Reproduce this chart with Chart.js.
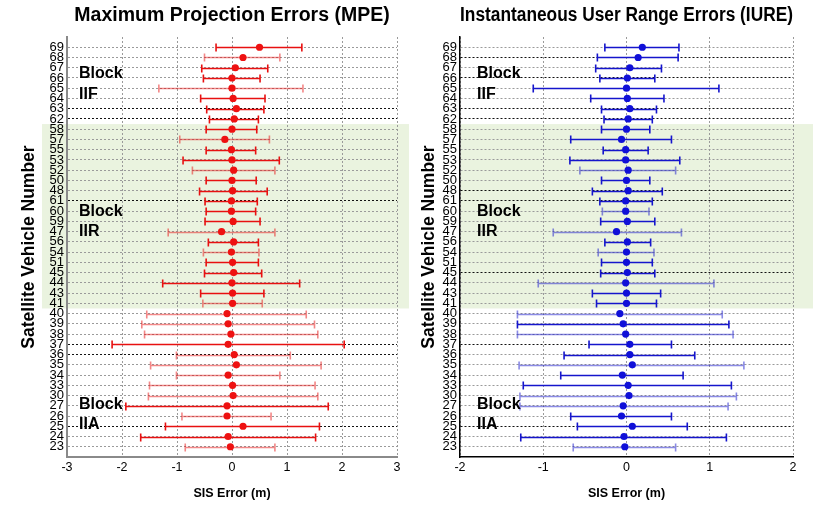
<!DOCTYPE html>
<html><head><meta charset="utf-8">
<script src="https://cdn.jsdelivr.net/npm/chart.js@4.4.1/dist/chart.umd.min.js"></script>
<style>
html,body{margin:0;padding:0;background:#fff;}
#wrap{position:relative;width:813px;height:515px;overflow:hidden;}
#c1{position:absolute;left:0;top:0;}
#c2{position:absolute;left:400px;top:0;}
</style></head><body>
<div id="wrap"><canvas id="c1" width="410" height="515"></canvas><canvas id="c2" width="413" height="515"></canvas></div>
<script>
// ---- data ----
const svn = [69,68,67,66,65,64,63,62,58,57,55,53,52,50,48,61,60,59,47,56,54,51,45,44,43,41,40,39,38,37,36,35,34,33,30,27,26,25,24,23];

const mpeMean = [0.50,0.20,0.06,0.00,0.00,0.02,0.08,0.04,0.00,-0.13,-0.01,0.00,0.03,0.00,0.01,-0.01,-0.01,0.02,-0.19,0.03,-0.01,0.01,0.03,0.00,0.01,0.01,-0.09,-0.07,-0.02,-0.07,0.04,0.08,-0.07,0.01,0.02,-0.09,-0.09,0.20,-0.07,-0.03];
const mpeLow  = [-0.29,-0.50,-0.55,-0.52,-1.33,-0.57,-0.46,-0.41,-0.47,-0.95,-0.47,-0.89,-0.72,-0.47,-0.59,-0.49,-0.47,-0.49,-1.16,-0.43,-0.52,-0.47,-0.50,-1.26,-0.57,-0.53,-1.55,-1.64,-1.59,-2.18,-1.01,-1.48,-1.01,-1.50,-1.52,-1.93,-0.91,-1.21,-1.66,-0.85];
const mpeHigh = [1.27,0.87,0.65,0.51,1.29,0.60,0.58,0.48,0.45,0.68,0.43,0.86,0.78,0.44,0.64,0.46,0.43,0.51,0.78,0.48,0.49,0.48,0.54,1.23,0.58,0.55,1.35,1.50,1.56,2.04,1.06,1.62,0.87,1.51,1.56,1.75,0.71,1.59,1.52,0.78];

const iureMean = [0.19,0.14,0.04,0.01,0.00,0.01,0.04,0.02,0.00,-0.06,-0.01,-0.01,0.02,0.00,0.02,-0.01,-0.01,0.01,-0.12,0.01,0.00,0.00,0.01,-0.01,0.00,0.00,-0.08,-0.04,-0.01,0.04,0.04,0.07,-0.05,0.02,0.03,-0.04,-0.06,0.07,-0.03,-0.02];
const iureLow  = [-0.26,-0.35,-0.37,-0.32,-1.12,-0.43,-0.30,-0.27,-0.30,-0.67,-0.28,-0.68,-0.56,-0.30,-0.41,-0.32,-0.29,-0.31,-0.88,-0.26,-0.34,-0.30,-0.31,-1.06,-0.41,-0.36,-1.31,-1.31,-1.31,-0.45,-0.75,-1.29,-0.79,-1.24,-1.28,-1.28,-0.67,-0.59,-1.27,-0.64];
const iureHigh = [0.63,0.62,0.42,0.34,1.11,0.45,0.36,0.31,0.28,0.54,0.26,0.64,0.59,0.28,0.43,0.31,0.27,0.34,0.66,0.29,0.33,0.31,0.34,1.05,0.41,0.36,1.15,1.23,1.28,0.54,0.82,1.41,0.68,1.26,1.32,1.22,0.54,0.73,1.20,0.59];

const xTicksMPE = [-3,-2,-1,0,1,2,3];
const xTicksIURE = [-2,-1,0,1,2];

// block groups: SVN at top and bottom of each group
const blockNames = ['IIF', 'IIR', 'IIA'];
const blockFirst = [69, 58, 40];
const blockLast  = [62, 41, 23];

// ---- styles (kept separate from the data) ----
const mpeFaint  = [0,1,0,0,1,0,0,0,0,1,0,0,1,0,0,0,0,0,1,0,1,0,0,0,0,1,1,1,1,0,1,1,1,1,1,0,1,0,0,1];
const iureFaint = [0,0,0,0,0,0,0,0,0,0,0,0,1,0,0,0,1,0,1,0,1,0,0,1,0,0,1,0,1,0,0,1,0,0,1,1,0,0,0,1];
const blockLabelRow = [2.6, 16.0, 34.85];   // vertical placement of the "Block" word (row units)
const FONT = "'Liberation Sans', Arial, sans-serif";

const idx = v => svn.indexOf(v);

const bandPlugin = {
  id: 'band',
  beforeDraw(chart) {
    const o = chart.options.plugins.band;
    const {ctx, scales:{y}} = chart;
    const y1 = y.getPixelForValue(idx(blockFirst[1]) - 0.5);
    const y2 = y.getPixelForValue(idx(blockLast[1]) + 0.5);
    ctx.save();
    ctx.fillStyle = '#eaf3df';
    ctx.fillRect(o.x0, y1, o.x1 - o.x0, y2 - y1);
    ctx.restore();
  }
};

const errPlugin = {
  id: 'err',
  beforeDatasetsDraw(chart) {
    const o = chart.options.plugins.err;
    const {ctx, scales:{x, y}} = chart;
    ctx.save();
    o.lo.forEach((lo, i) => {
      const yy = Math.round(y.getPixelForValue(i)) + 0.5;
      const x1 = x.getPixelForValue(lo), x2 = x.getPixelForValue(o.hi[i]);
      ctx.strokeStyle = o.faint[i] ? o.light : o.dark;
      ctx.lineWidth = 1.6;
      ctx.beginPath();
      ctx.moveTo(x1, yy); ctx.lineTo(x2, yy);
      ctx.moveTo(x1, yy - 4); ctx.lineTo(x1, yy + 4);
      ctx.moveTo(x2, yy - 4); ctx.lineTo(x2, yy + 4);
      ctx.stroke();
    });
    ctx.restore();
  }
};

const blockPlugin = {
  id: 'blocks',
  afterDraw(chart) {
    const o = chart.options.plugins.blocks;
    const {ctx, chartArea, scales:{y}} = chart;
    ctx.save();
    ctx.fillStyle = '#000';
    ctx.font = 'bold 16px ' + FONT;
    ctx.textBaseline = 'middle';
    ctx.textAlign = 'left';
    blockNames.forEach((name, k) => {
      const x = chartArea.left + o.dx;
      const r = blockLabelRow[k];
      ctx.fillText('Block', x, y.getPixelForValue(r));
      ctx.fillText(name, x, y.getPixelForValue(r + 1.98));
    });
    ctx.restore();
  }
};

function makeChart(canvas, cfg) {
  const dark = cfg.darkRows;
  return new Chart(canvas, {
    type: 'scatter',
    data: {
      datasets: [{
        data: cfg.mean.map((v, i) => ({x: v, y: i})),
        backgroundColor: cfg.dot,
        borderWidth: 0,
        pointRadius: 3.6,
        pointHoverRadius: 3.6
      }]
    },
    options: {
      responsive: false,
      animation: false,
      devicePixelRatio: 1,
      layout: {padding: {left: 0, right: cfg.padRight, top: 0, bottom: 0}},
      plugins: {
        legend: {display: false},
        tooltip: {enabled: false},
        title: {
          display: true, text: cfg.title, fullSize: false,
          color: '#000', font: {family: FONT, size: 19.5, weight: 'bold', lineHeight: 1.2},
          padding: {top: 4, bottom: 9.6}
        },
        band: {x0: cfg.bandX0, x1: cfg.bandX1},
        err: {lo: cfg.lo, hi: cfg.hi, faint: cfg.faint, dark: cfg.barDark, light: cfg.barLight},
        blocks: {dx: cfg.blockDx}
      },
      scales: {
        x: {
          type: 'linear', min: cfg.xTicks[0], max: cfg.xTicks[cfg.xTicks.length - 1],
          afterBuildTicks: s => { s.ticks = cfg.xTicks.map(v => ({value: v})); },
          afterFit: s => { s.height = 58; },
          grid: {color: '#9a9a9a', lineWidth: 1, drawTicks: false},
          border: {display: true, color: cfg.axisColor, width: cfg.axisWidth, dash: [2, 2]},
          ticks: {color: '#000', padding: 3, font: {family: FONT, size: 12.5}},
          title: {display: true, text: 'SIS Error (m)', color: '#000',
                  font: {family: FONT, size: 12.5, weight: 'bold'}, padding: {top: 0, bottom: 14}}
        },
        y: {
          type: 'linear', min: -1, max: 40, reverse: true,
          afterBuildTicks: s => { const t = []; for (let i = -1; i <= 40; i++) t.push({value: i}); s.ticks = t; },
          afterFit: s => { s.width = cfg.yWidth; },
          grid: {
            drawTicks: false, lineWidth: 1,
            color: c => {
              const v = c.tick ? c.tick.value : null;
              if (v === -1 || v === 40) return 'rgba(0,0,0,0)';
              return dark.includes(svn[v]) ? '#111' : '#9a9a9a';
            }
          },
          border: {display: true, color: cfg.axisColor, width: cfg.axisWidth, dash: [2, 2]},
          ticks: {
            autoSkip: false, color: '#000', padding: 3,
            font: {family: FONT, size: 13},
            callback: v => (v >= 0 && v < svn.length) ? String(svn[v]) : ''
          },
          title: {display: true, text: 'Satellite Vehicle Number', color: '#000',
                  font: {family: FONT, size: 17.5, weight: 'bold'}, padding: {top: 19}}
        }
      }
    },
    plugins: [bandPlugin, errPlugin, blockPlugin]
  });
}

makeChart(document.getElementById('c1'), {
  title: 'Maximum Projection Errors (MPE)',
  mean: mpeMean, lo: mpeLow, hi: mpeHigh, faint: mpeFaint,
  xTicks: xTicksMPE, dot: '#ee1111', barDark: '#e81010', barLight: 'rgba(232,16,16,0.5)',
  darkRows: [63,62,61,37,36,25],
  padRight: 13, yWidth: 67, bandX0: 42, bandX1: 409,
  axisColor: '#8a8a8a', axisWidth: 2, blockDx: 12
});

makeChart(document.getElementById('c2'), {
  title: 'Instantaneous User Range Errors (IURE)',
  mean: iureMean, lo: iureLow, hi: iureHigh, faint: iureFaint,
  xTicks: xTicksIURE, dot: '#1010d8', barDark: '#1515cc', barLight: 'rgba(21,21,204,0.5)',
  darkRows: [68,66,63,62,61,48,45,37,25],
  padRight: 20, yWidth: 60, bandX0: 61, bandX1: 413,
  axisColor: '#000', axisWidth: 1.5, blockDx: 17
});
</script>
</body></html>
